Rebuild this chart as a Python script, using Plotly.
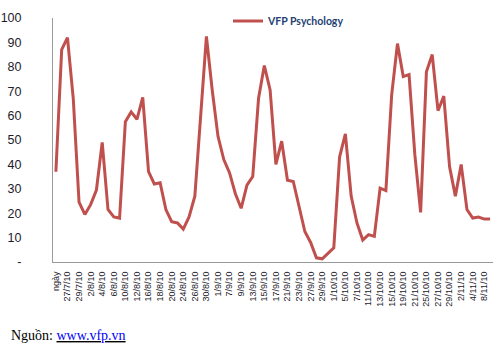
import plotly.graph_objects as go

# Trading-day categories (first cell is the column header "ngày")
categories = [
    "ngày", "26/7/10", "27/7/10", "28/7/10", "29/7/10", "30/7/10",
    "2/8/10", "3/8/10", "4/8/10", "5/8/10", "6/8/10",
    "9/8/10", "10/8/10", "11/8/10", "12/8/10", "13/8/10",
    "16/8/10", "17/8/10", "18/8/10", "19/8/10", "20/8/10",
    "23/8/10", "24/8/10", "25/8/10", "26/8/10", "27/8/10",
    "30/8/10", "31/8/10", "1/9/10", "6/9/10", "7/9/10",
    "8/9/10", "9/9/10", "10/9/10", "13/9/10", "14/9/10",
    "15/9/10", "16/9/10", "17/9/10", "20/9/10", "21/9/10",
    "22/9/10", "23/9/10", "24/9/10", "27/9/10", "28/9/10",
    "29/9/10", "30/9/10", "1/10/10", "4/10/10", "5/10/10",
    "6/10/10", "7/10/10", "8/10/10", "11/10/10", "12/10/10",
    "13/10/10", "14/10/10", "15/10/10", "18/10/10", "19/10/10",
    "20/10/10", "21/10/10", "22/10/10", "25/10/10", "26/10/10",
    "27/10/10", "28/10/10", "29/10/10", "1/11/10", "2/11/10",
    "3/11/10", "4/11/10", "5/11/10", "8/11/10", "9/11/10",
]

# VFP Psychology index values
vfp_psychology = [
    37, 87, 92, 67, 24.5, 19.5, 23.5, 29.5, 49, 21.5,
    18.5, 18, 57.5, 61.5, 58.5, 67.5, 37, 32, 32.5, 21.5,
    16.5, 16, 13.5, 18.5, 27, 61, 92.5, 70.5, 51.5, 42,
    36.5, 28, 22, 31.5, 35, 67, 80.5, 70.5, 40, 49.5,
    33.5, 33, 22.5, 12.5, 8, 1.7, 1.3, 3.7, 5.8, 43,
    52.5, 27, 16, 9, 11.2, 10.5, 30.3, 29.3, 68.5, 89.5,
    76, 76.8, 44, 20.3, 78, 85, 62, 68, 39, 27,
    40, 21.5, 18, 18.4, 17.6, 17.6,
]

y_tick_values = [0, 10, 20, 30, 40, 50, 60, 70, 80, 90, 100]
y_tick_text = ["-", "10", "20", "30", "40", "50", "60", "70", "80", "90", "100"]

series_name = "VFP Psychology"
source_prefix = "Nguồn: "
source_link = "www.vfp.vn"

x_pos = list(range(len(categories)))

W, H = 497, 346
LEFT, RIGHT, TOP, BOTTOM = 53, 4, 17.5, 83.5
PW, PH = W - LEFT - RIGHT, H - TOP - BOTTOM

fig = go.Figure()
fig.add_trace(go.Scatter(
    x=x_pos,
    y=vfp_psychology,
    mode="lines",
    name=series_name,
    line=dict(color="#C0504D", width=3),
    hoverinfo="skip",
))

fig.update_layout(
    width=W,
    height=H,
    margin=dict(l=LEFT, r=RIGHT, t=TOP, b=BOTTOM, autoexpand=False),
    paper_bgcolor="white",
    plot_bgcolor="white",
    showlegend=True,
    legend=dict(
        x=(228 - LEFT) / PW, y=(H - BOTTOM - 20.5) / PH,
        xanchor="left", yanchor="middle",
        bgcolor="rgba(0,0,0,0)",
        borderwidth=0,
        font=dict(family="Lato", size=10.5, color="#243F73", weight="bold"),
    ),
    annotations=[
        dict(
            xref="paper", yref="paper",
            x=(9 - LEFT) / PW, y=(H - BOTTOM - 336) / PH,
            xanchor="left", yanchor="middle",
            showarrow=False,
            text=source_prefix + "<u><span style='color:#0000FF'>" + source_link + "</span></u>",
            font=dict(family="Liberation Serif", size=14, color="#000000"),
        )
    ],
)

fig.update_xaxes(
    range=[-0.5, len(categories) - 0.5],
    tickmode="array",
    tickvals=x_pos[::2],
    ticktext=categories[::2],
    tickangle=-90,
    tickfont=dict(family="Liberation Sans", size=9, color="#1C1C2C"),
    ticklabelstandoff=5,
    showline=True,
    linecolor="#9A9A9A",
    linewidth=1,
    showgrid=False,
    zeroline=False,
    ticks="",
    automargin=False,
)

fig.update_yaxes(
    range=[0, 100],
    tickmode="array",
    tickvals=y_tick_values,
    ticktext=y_tick_text,
    tickfont=dict(family="Liberation Sans", size=12.5, color="#1C1C2C"),
    ticklabelstandoff=28,
    showline=True,
    linecolor="#9A9A9A",
    linewidth=1,
    showgrid=False,
    zeroline=False,
    ticks="",
    automargin=False,
)

fig.write_html("out.html")
